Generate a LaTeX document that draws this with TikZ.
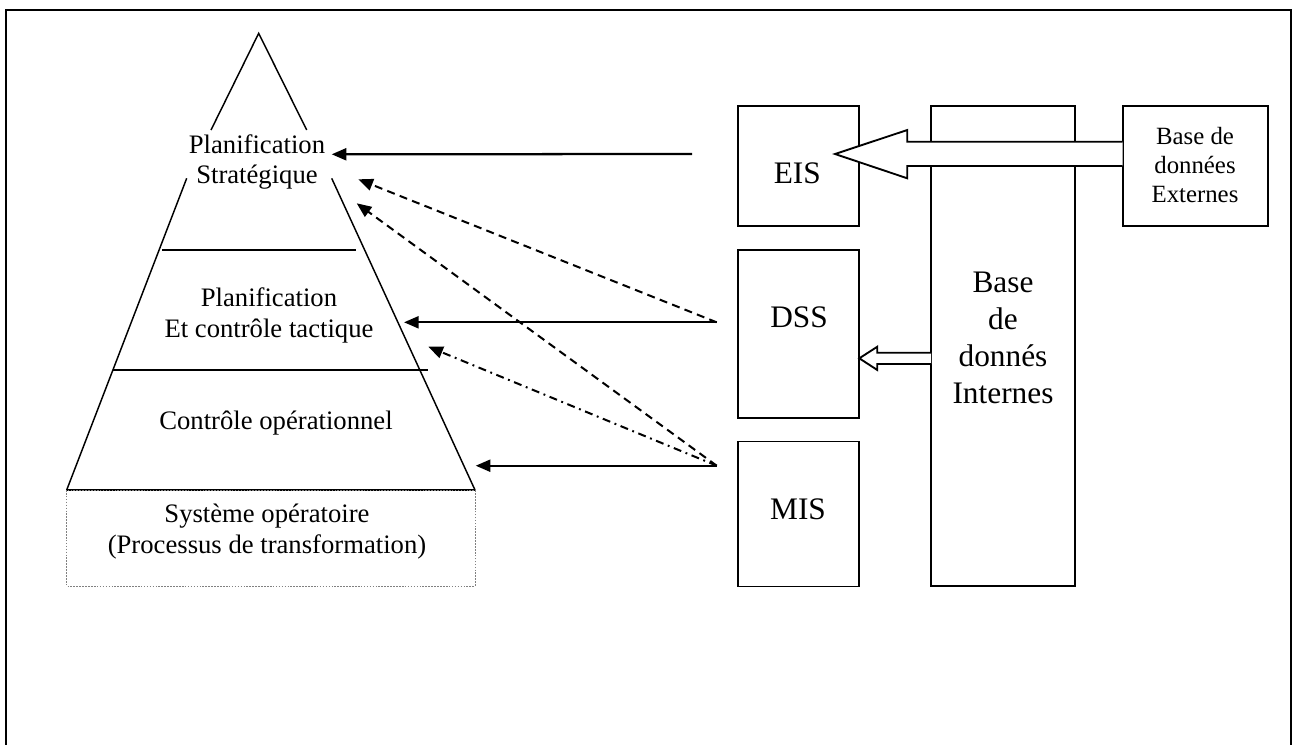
\documentclass[tikz,border=0pt]{standalone}
\usepackage{fontspec}
\setmainfont{Liberation Serif}
\usetikzlibrary{arrows.meta}
\begin{document}
\begin{tikzpicture}[x=0.75pt,y=-0.75pt,
  frame/.style={line width=1.8pt},
  pyr/.style={line width=1.1pt},
  sysbox/.style={draw,line width=1.4pt,inner sep=0pt},
  lvltext/.style={align=center,font=\fontsize{20}{23.2}\selectfont,inner sep=0pt},
  bigtext/.style={align=center,font=\fontsize{23.5}{27.8}\selectfont,inner sep=0pt},
  exttext/.style={align=center,font=\fontsize{18.6}{21.4}\selectfont,inner sep=0pt},
  tip/.style={-{Triangle[length=11pt,width=9pt]}},
  flow/.style={tip,line width=1.7pt},
  dflow/.style={tip,line width=1.5pt,dash pattern=on 6pt off 4pt},
  dcflow/.style={tip,line width=1.5pt,dash pattern=on 6pt off 3.5pt on 1.4pt off 3.5pt},
  hollow/.style={draw,fill=white,line width=1.4pt,line join=miter}
]
\useasboundingbox (0,0) rectangle (1292,744);
% outer frame (its lower edge lies below the page)
\draw[frame] (6,800) -- (6,10) -- (1291,10) -- (1291,800);

% pyramid of management levels
\coordinate (apex) at (258.7,33.3);
\draw[pyr] (211,130) -- (apex) -- (306.7,130);
\draw[pyr] (186.7,178.3) -- (66.7,490);
\draw[pyr] (331.7,178.3) -- (475,490);
\draw[pyr] (162.3,250) -- (355.7,250);
\draw[pyr] (113.3,370) -- (428.3,370);
\draw[line width=1.6pt] (66.7,490) -- (475,490);
\draw[gray,line width=0.7pt,dash pattern=on 1.2pt off 1pt] (66.7,490) rectangle (475,586);

\node[lvltext] (strat) at (257,162) {Planification\\Stratégique};
\node[lvltext] (tact) at (269,315.5) {Planification\\Et contrôle tactique};
\node[lvltext] (oper) at (276,423) {Contrôle opérationnel};
\node[lvltext] (sysop) at (267,531.5) {Système opératoire\\(Processus de transformation)};

% information systems
\node[sysbox,minimum width=90.75pt,minimum height=90.2pt] (eisbox) at (798.8,165.9) {};
\node[sysbox,minimum width=90.75pt,minimum height=126pt] (dssbox) at (798.8,334) {};
\node[sysbox,minimum width=90.75pt,minimum height=108.75pt] (misbox) at (798.8,514) {};
\node[bigtext] (eis) at (797.3,173.3) {EIS};
\node[bigtext] (dss) at (799,317) {DSS};
\node[bigtext] (mis) at (798,509) {MIS};

% internal and external databases
\draw[line width=1.4pt] (931,105.7) rectangle (1075,586);
\node[bigtext] (intdb) at (1003,338) {Base\\de\\donnés\\Internes};
\draw[line width=1.4pt] (1122.7,105.7) rectangle (1267.7,226);
\node[exttext] (extdb) at (1195,165) {Base de\\données\\Externes};

% hollow block arrows
\filldraw[hollow] (1122.7,141.7) -- (907.3,141.7) -- (907.3,130) -- (835,154)
  -- (907.3,178.3) -- (907.3,166) -- (1122.7,166);
\filldraw[hollow] (931,352.7) -- (877.3,352.7) -- (877.3,346.7) -- (859.3,358.3)
  -- (877.3,370) -- (877.3,364) -- (931,364);

% information flows towards the levels
\coordinate (eisout) at (692,154);
\coordinate (dssout) at (716.7,322.3);
\coordinate (misout) at (716.7,465.7);
\coordinate (stratin) at (331.7,154.3);
\coordinate (stratin2) at (358.3,179.3);
\coordinate (stratin3) at (356.7,203.3);
\coordinate (tactin) at (404,322.3);
\coordinate (tactin2) at (428.3,346.7);
\coordinate (operin) at (475.7,465.7);

\draw[flow] (eisout) -- (stratin);
\draw[flow] (dssout) -- (tactin);
\draw[flow] (misout) -- (operin);
\draw[dflow] (dssout) -- (stratin2);
\draw[dflow] (misout) -- (stratin3);
\draw[dcflow] (misout) -- (tactin2);
\end{tikzpicture}
\end{document}
